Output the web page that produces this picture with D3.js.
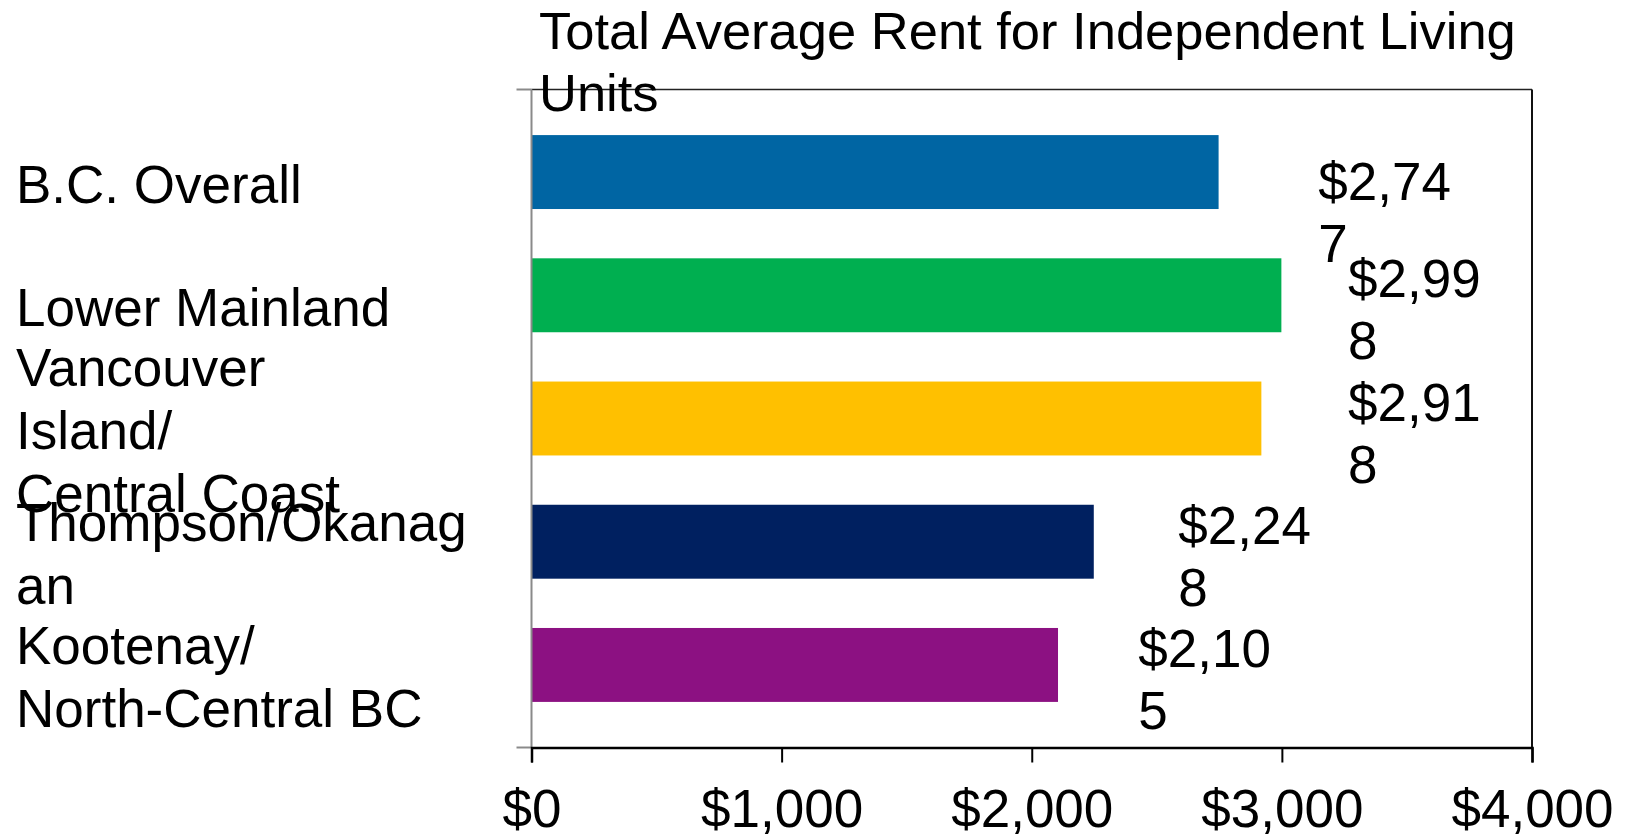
<!DOCTYPE html>
<html>
<head>
<meta charset="utf-8">
<script src="https://cdn.jsdelivr.net/npm/d3@7"></script>
<style>
  html, body { margin: 0; padding: 0; background: #fff; }
  svg { display: block; }
  text { font-family: "Liberation Sans", Arial, sans-serif; fill: #000; }
</style>
</head>
<body>
<svg id="chart" width="1626" height="838"></svg>
<script>
// ---- Data ----
const categories = ["B.C. Overall", "Lower Mainland", "Vancouver Island/ Central Coast", "Thompson/Okanagan", "Kootenay/ North-Central BC"];
const categoryLines = [
  ["B.C. Overall"],
  ["Lower Mainland"],
  ["Vancouver", "Island/", "Central Coast"],
  ["Thompson/Okanag", "an"],
  ["Kootenay/", "North-Central BC"]
];
const values = [2747, 2998, 2918, 2248, 2105];
const barColors = ["#0065A3", "#00AF50", "#FFC000", "#002060", "#8C1182"];
const xTicks = [0, 1000, 2000, 3000, 4000];
const titleLines = ["Total Average Rent for Independent Living", "Units"];

// ---- Layout ----
const W = 1626, H = 838;
const plot = { left: 531.5, right: 1532, top: 89.5, bottom: 747.5 };
const fontSize = 53;
const lineH = 63;
const capH = 38;

const svg = d3.select("#chart");
svg.append("rect").attr("width", W).attr("height", H).attr("fill", "#fff");

const x = d3.scaleLinear().domain([0, 4000]).range([plot.left, plot.right]);
const y = d3.scaleBand().domain(categories).range([plot.top, plot.bottom])
  .paddingInner(0.4).paddingOuter(0.37);
// data-label anchor scale (labels sit right of bar ends, kept inside the frame)
const labelX = d3.scaleLinear().domain([0, 4000]).range([548, 1669.6]);

// bars
svg.append("g").selectAll("rect").data(values).join("rect")
  .attr("x", x(0))
  .attr("y", (d, i) => y(categories[i]))
  .attr("width", d => x(d) - x(0))
  .attr("height", y.bandwidth())
  .attr("fill", (d, i) => barColors[i]);

// frame: top and right borders
svg.append("line").attr("x1", plot.left).attr("x2", plot.right)
  .attr("y1", plot.top).attr("y2", plot.top)
  .attr("stroke", "#222").attr("stroke-width", 1.5);
svg.append("line").attr("x1", plot.right).attr("x2", plot.right)
  .attr("y1", plot.top).attr("y2", plot.bottom)
  .attr("stroke", "#111").attr("stroke-width", 2);

// y axis (gray) with end ticks
svg.append("line").attr("x1", plot.left).attr("x2", plot.left)
  .attr("y1", plot.top).attr("y2", plot.bottom)
  .attr("stroke", "#8a8a8a").attr("stroke-width", 2);
[plot.top, plot.bottom].forEach(v => {
  svg.append("line").attr("x1", plot.left - 15).attr("x2", plot.left)
    .attr("y1", v).attr("y2", v)
    .attr("stroke", "#8a8a8a").attr("stroke-width", 2);
});

// x axis
const xAxis = d3.axisBottom(x).tickValues(xTicks)
  .tickFormat(d3.format("$,")).tickSize(15).tickPadding(27);
const gx = svg.append("g").attr("transform", `translate(0,${plot.bottom})`).call(xAxis);
gx.select(".domain").attr("stroke", "#000").attr("stroke-width", 2.5);
gx.selectAll(".tick line").attr("stroke", "#000").attr("stroke-width", 2);
gx.selectAll(".tick text")
  .attr("font-family", '"Liberation Sans", Arial, sans-serif')
  .attr("font-size", fontSize).attr("fill", "#000")
  .attr("dy", "0.71em");

// category labels
categoryLines.forEach((lines, i) => {
  const c = y(categories[i]) + y.bandwidth() / 2 + 11.5;
  const first = c - ((lines.length - 1) * lineH + capH) / 2 + capH;
  const t = svg.append("text").attr("font-size", fontSize);
  lines.forEach((ln, k) => {
    t.append("tspan").attr("x", 16).attr("y", first + k * lineH).text(ln);
  });
});

// value labels (wrapped at 5 characters)
const fmt = d3.format("$,");
values.forEach((v, i) => {
  const s = fmt(v);
  const lines = [];
  for (let k = 0; k < s.length; k += 5) lines.push(s.slice(k, k + 5));
  const lx = Math.min(labelX(v), 1348);
  const c = y(categories[i]) + y.bandwidth() / 2;
  const first = Math.max(c + 2, plot.top + 110);
  const t = svg.append("text").attr("font-size", fontSize);
  lines.forEach((ln, k) => {
    t.append("tspan").attr("x", lx).attr("y", first + k * 62).text(ln);
  });
});

// title
const tt = svg.append("text").attr("font-size", 52.5);
titleLines.forEach((ln, k) => {
  tt.append("tspan").attr("x", 539).attr("y", 49 + k * 62).text(ln);
});
</script>
</body>
</html>
